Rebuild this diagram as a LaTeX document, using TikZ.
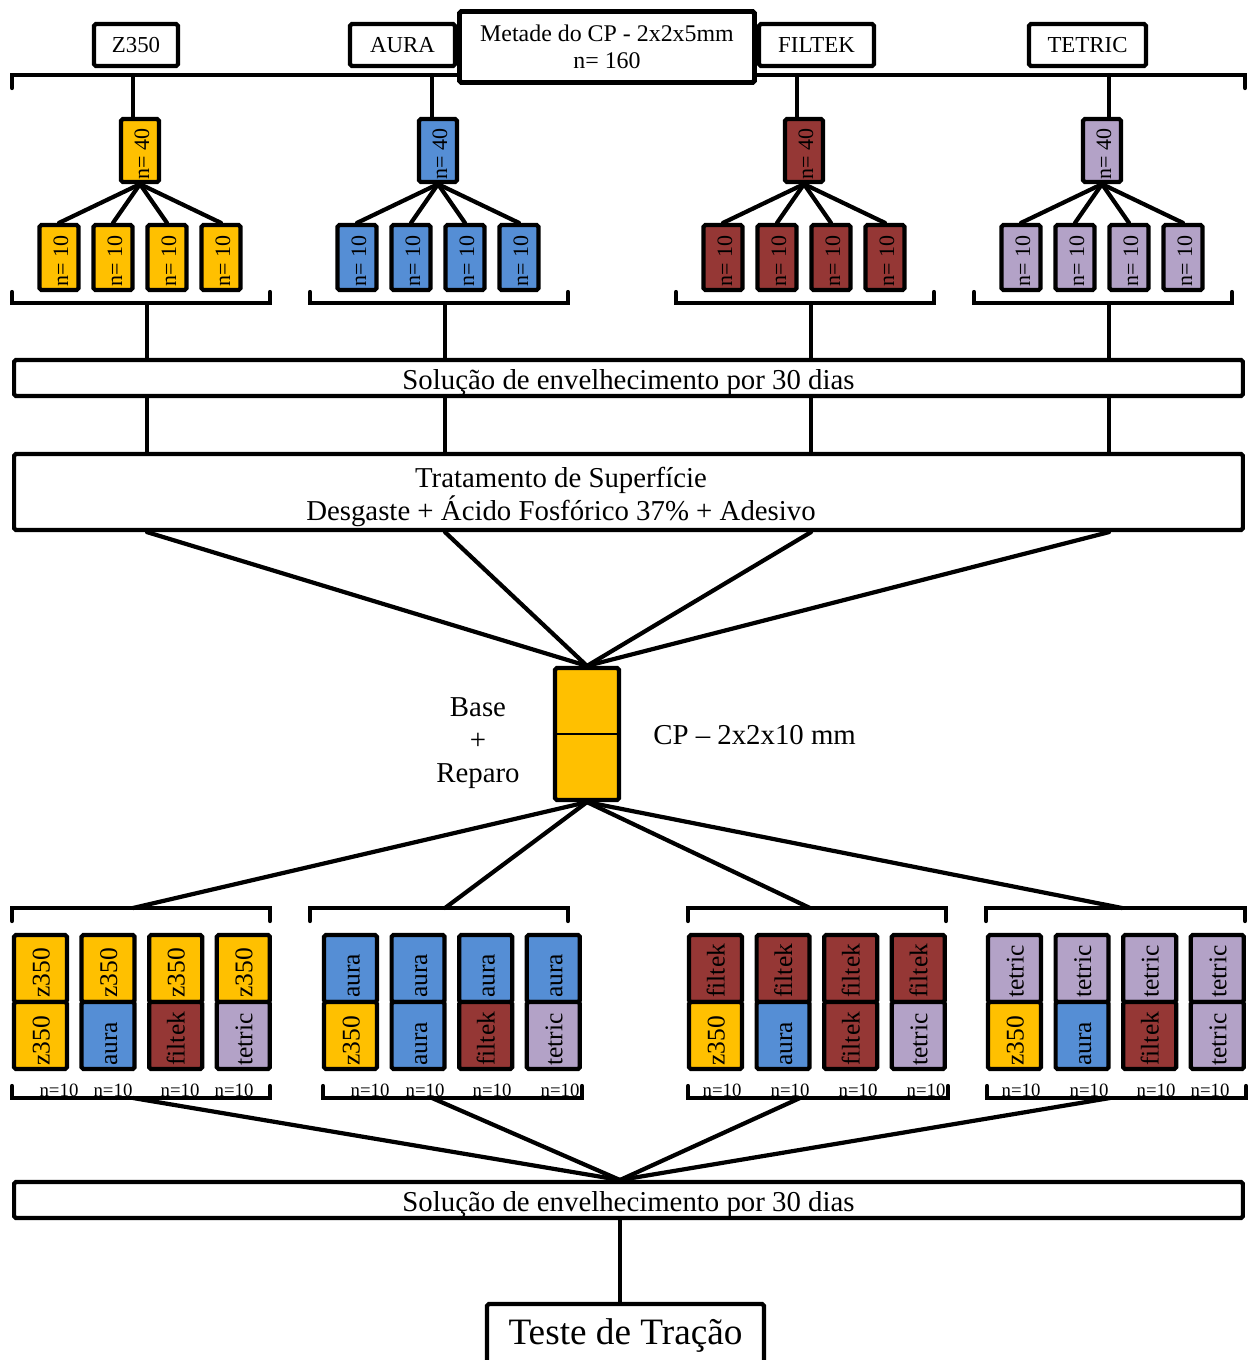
\documentclass[tikz,border=0pt]{standalone}
\usepackage{fontspec}
\setmainfont{Liberation Serif}
\usetikzlibrary{positioning}

\definecolor{zcol}{HTML}{FFC000}
\definecolor{acol}{HTML}{558ED5}
\definecolor{fcol}{HTML}{953735}
\definecolor{tcol}{HTML}{B3A2C7}

\tikzset{
  ln/.style={line width=2.4pt, line cap=round},
  box/.style={draw, line width=2.4pt, rounded corners=1pt, inner sep=0pt, fill=white},
  matbox/.style={box, minimum height=0.84cm, font=\fontsize{13}{15}\selectfont},
  wide/.style={box, minimum width=24.58cm, text height=13.4pt, text depth=0pt,
               font=\fontsize{16.4}{18.7}\selectfont},
  nbox/.style={box, minimum width=0.78cm, minimum height=1.30cm},
  halfbox/.style={box, minimum width=1.06cm, minimum height=1.34cm},
  rot/.style={rotate=90, anchor=base west, inner sep=0pt, font=\fontsize{12.5}{14}\selectfont},
  rotbig/.style={rot, font=\fontsize{14.5}{16}\selectfont},
  bigtxt/.style={font=\fontsize{16.4}{18.7}\selectfont, align=center},
}

\begin{document}
\begin{tikzpicture}[x=0.02cm, y=-0.02cm]
  \path[use as bounding box, clip] (0,0) rectangle (1249,1360);

  % materiais
  \draw[ln] (12,88) -- (12,75) -- (1245,75) -- (1245,88);
  \node[matbox, minimum width=1.68cm] (lblz) at (136,45) {Z350};
  \node[matbox, minimum width=2.10cm] (lbla) at (402.5,45) {AURA};
  \node[matbox, minimum width=2.30cm] (lblf) at (816.5,45) {FILTEK};
  \node[matbox, minimum width=2.34cm] (lblt) at (1087.5,45) {TETRIC};
  \node[box, line width=2.8pt, minimum width=5.9cm, minimum height=1.42cm, align=center,
        font=\fontsize{13.6}{15.3}\selectfont] (metade) at (607,47) {Metade do CP - 2x2x5mm\\n= 160};

  % n=40 -> 4 x n=10
  \foreach \g/\c/\col/\tx in {z/140/zcol/133, a/438/acol/432, f/804/fcol/797, t/1102/tcol/1109}{
    \coordinate (bar\g) at (\tx,75);
    \node[nbox, fill=\col, minimum width=0.76cm, minimum height=1.26cm] (\g40) at (\c,150.5) {};
    \node[rot] (\g40-t) at (\c+9,180) {n= 40};
    \draw[ln] (bar\g) -- (bar\g |- \g40.north);
    \foreach \k/\d in {1/-81, 2/-27, 3/27, 4/81}{
      \node[nbox, fill=\col] (\g10\k) at (\c+\d,257.5) {};
      \node[rot] (\g10\k-t) at (\c+\d+9,287) {n= 10};
      \draw[ln] (\g40.south) -- (\g10\k.north);
    }
    \draw[ln] (\c-128,292) -- (\c-128,303) -- (\c+130,303) -- (\c+130,292);
    \coordinate (br\g) at (\c+7,303);
  }

  \node[wide, minimum height=0.72cm] (sol1) at (628.5,378) {Solução de envelhecimento por 30 dias};
  \node[wide, minimum height=1.52cm] (trat) at (628.5,492) {};
  \node[bigtxt] (trat-t) at (561,497) {Tratamento de Superfície\\Desgaste + Ácido Fosfórico 37\% + Adesivo};

  % CP base + reparo
  \node[box, fill=zcol, minimum width=1.28cm, minimum height=2.64cm] (cp) at (587,734) {};
  \draw[line width=1.4pt] (cp.west) -- (cp.east);
  \node[bigtxt] (base) at (478,743) {Base\\+\\Reparo};
  \node[bigtxt, anchor=west, inner sep=0pt] (cp-t) at (653,735) {CP – 2x2x10 mm};

  \foreach \g in {z,a,f,t}{
    \draw[ln] (br\g) -- (br\g |- sol1.north);
    \draw[ln] (br\g |- sol1.south) -- (br\g |- trat.north);
    \draw[ln] (br\g |- trat.south) -- (cp.north);
  }

  \node[wide, minimum height=0.72cm] (sol2) at (628.5,1200) {Solução de envelhecimento por 30 dias};
  \coordinate (j1) at (620,1180);
  \coordinate (j2) at (620,1220);

  % grupos base/reparo
  \foreach \g/\ta/\tb/\tp/\ba/\bb/\bt in {z/12/270/133/12/270/133, a/310/568/445/323/582/432,
      f/688/946/810/688/948/800, t/986/1245/1122/987/1246/1110}{
    \draw[ln] (\ta,921) -- (\ta,908) -- (\tb,908) -- (\tb,921);
    \coordinate (top\g) at (\tp,908);
    \draw[ln] (cp.south) -- (top\g);
    \draw[ln] (\ba,1086) -- (\ba,1098) -- (\bb,1098) -- (\bb,1086);
    \coordinate (bot\g) at (\bt,1098);
    \draw[ln] (bot\g) -- (j1);
  }
  \foreach \g/\col/\m/\s in {z/zcol/z350/12, a/acol/aura/322, f/fcol/filtek/687, t/tcol/tetric/986}{
    \foreach \k/\kc/\km in {0/zcol/z350, 1/acol/aura, 2/fcol/filtek, 3/tcol/tetric}{
      \node[halfbox, fill=\col] (\g\k-u) at (\s+28.5+\k*67.6,968.5) {};
      \node[halfbox, fill=\kc] (\g\k-d) at (\s+28.5+\k*67.6,1035.5) {};
      \node[rotbig] (\g\k-ut) at (\s+37.5+\k*67.6,998) {\m};
      \node[rotbig] (\g\k-dt) at (\s+37.5+\k*67.6,1066) {\km};
    }
  }
  \foreach \x [count=\i] in {59,113,180,234, 370,425,492,560, 722,790,858,926, 1021,1089,1156,1210}
    \node[font=\fontsize{10.7}{12}\selectfont, inner sep=0pt] (nl\i) at (\x,1090) {n=10};

  % teste
  \node[box, minimum width=5.54cm, minimum height=1.28cm, font=\fontsize{21.2}{24}\selectfont] (teste) at (625.5,1336) {Teste de Tração};
  \draw[ln] (j2) -- (j2 |- teste.north);
\end{tikzpicture}
\end{document}
